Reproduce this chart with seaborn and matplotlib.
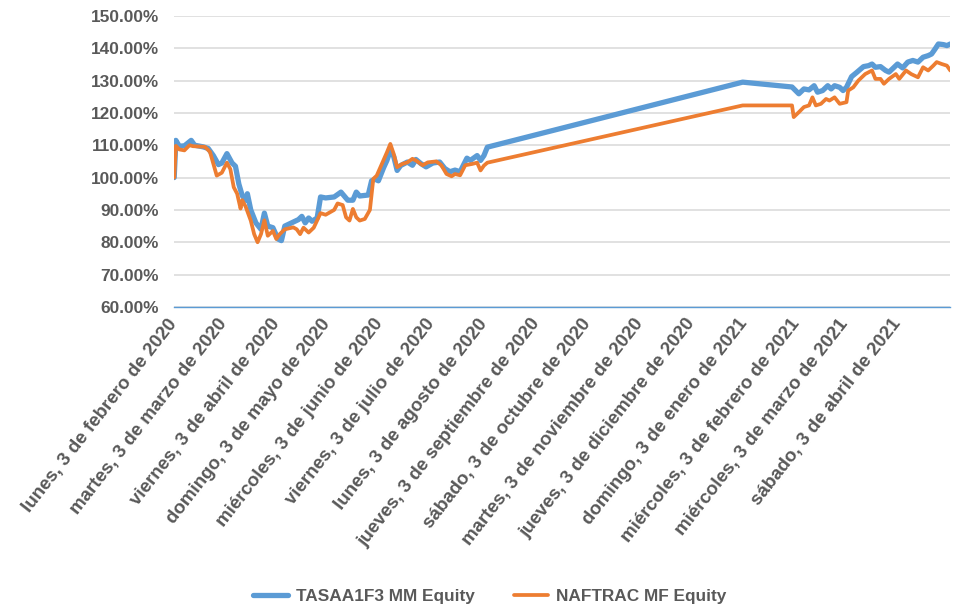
import pandas as pd
import matplotlib
matplotlib.use("Agg")
import matplotlib.pyplot as plt
import matplotlib.dates as mdates
import matplotlib.transforms as mtransforms
from matplotlib.ticker import PercentFormatter
import seaborn as sns

# Serie 1: TASAA1F3 MM Equity (valores en %)
tasa_fechas = [
    "2020-02-03", "2020-02-04", "2020-02-06", "2020-02-09", "2020-02-13", "2020-02-15",
    "2020-02-20", "2020-02-23", "2020-02-26", "2020-02-29", "2020-03-02", "2020-03-05",
    "2020-03-08", "2020-03-10", "2020-03-12", "2020-03-14", "2020-03-16", "2020-03-17",
    "2020-03-19", "2020-03-22", "2020-03-25", "2020-03-27", "2020-03-29", "2020-04-01",
    "2020-04-04", "2020-04-06", "2020-04-08", "2020-04-12", "2020-04-16", "2020-04-18",
    "2020-04-20", "2020-04-22", "2020-04-24", "2020-04-27", "2020-04-29", "2020-05-02",
    "2020-05-07", "2020-05-11", "2020-05-15", "2020-05-18", "2020-05-20", "2020-05-22",
    "2020-05-27", "2020-05-29", "2020-05-31", "2020-06-02", "2020-06-05", "2020-06-07",
    "2020-06-09", "2020-06-11", "2020-06-13", "2020-06-15", "2020-06-19", "2020-06-22",
    "2020-06-24", "2020-06-27", "2020-06-30", "2020-07-04", "2020-07-08", "2020-07-11",
    "2020-07-14", "2020-07-17", "2020-07-20", "2020-07-24", "2020-07-26", "2020-07-30",
    "2020-08-01", "2020-08-03", "2020-08-05",
    "2021-01-02", "2021-01-31", "2021-02-04", "2021-02-07", "2021-02-10", "2021-02-13",
    "2021-02-15", "2021-02-18", "2021-02-21", "2021-02-23", "2021-02-25", "2021-02-28",
    "2021-03-02", "2021-03-04", "2021-03-07", "2021-03-10", "2021-03-14", "2021-03-17",
    "2021-03-19", "2021-03-21", "2021-03-24", "2021-03-27", "2021-03-29", "2021-04-01",
    "2021-04-03", "2021-04-06", "2021-04-09", "2021-04-12", "2021-04-15", "2021-04-18",
    "2021-04-21", "2021-04-23", "2021-04-25", "2021-04-27", "2021-04-30", "2021-05-02",
    "2021-05-04",
]
tasa_valores = [
    100.0, 111.5, 109.7, 109.8, 111.5, 110.0,
    109.5, 109.0, 106.8, 104.0, 104.5, 107.4,
    104.5, 103.5, 98.0, 94.4, 93.0, 95.0,
    90.0, 86.0, 84.0, 89.0, 85.0, 84.5,
    81.0, 80.5, 85.0, 86.0, 87.0, 88.0,
    86.0, 87.5, 86.5, 87.5, 94.0, 93.7,
    94.0, 95.5, 93.0, 93.0, 95.5, 94.3,
    94.6, 99.0, 99.5, 99.0, 103.0, 105.3,
    108.4, 106.5, 102.2, 103.7, 104.8, 103.8,
    105.6, 104.3, 103.3, 104.5, 104.8, 102.8,
    101.8, 102.3, 101.8, 106.0, 105.3, 106.8,
    105.3, 106.8, 109.4,
    129.5, 128.0, 125.9, 127.4, 127.1, 128.4,
    126.4, 126.9, 128.4, 127.4, 128.4, 127.9,
    126.9, 127.9, 131.2, 132.5, 134.3, 134.6,
    135.1, 134.1, 134.3, 133.1, 132.6, 134.1,
    135.1, 133.9, 135.7, 136.2, 135.7, 137.2,
    137.7, 138.2, 139.7, 141.3, 141.1, 140.8,
    141.3,
]

# Serie 2: NAFTRAC MF Equity (valores en %)
naf_fechas = [
    "2020-02-03", "2020-02-04", "2020-02-06", "2020-02-09", "2020-02-12", "2020-02-14",
    "2020-02-21", "2020-02-24", "2020-02-26", "2020-02-28", "2020-03-02", "2020-03-05",
    "2020-03-07", "2020-03-09", "2020-03-11", "2020-03-13", "2020-03-14", "2020-03-16",
    "2020-03-19", "2020-03-21", "2020-03-23", "2020-03-25", "2020-03-27", "2020-03-29",
    "2020-04-01", "2020-04-03", "2020-04-05", "2020-04-08", "2020-04-13", "2020-04-15",
    "2020-04-17", "2020-04-19", "2020-04-22", "2020-04-25", "2020-04-29", "2020-05-02",
    "2020-05-07", "2020-05-09", "2020-05-12", "2020-05-14", "2020-05-16", "2020-05-18",
    "2020-05-20", "2020-05-22", "2020-05-25", "2020-05-28", "2020-05-30", "2020-06-01",
    "2020-06-04", "2020-06-07", "2020-06-09", "2020-06-11", "2020-06-13", "2020-06-16",
    "2020-06-19", "2020-06-22", "2020-06-24", "2020-06-28", "2020-07-01", "2020-07-06",
    "2020-07-09", "2020-07-12", "2020-07-15", "2020-07-17", "2020-07-20", "2020-07-23",
    "2020-07-27", "2020-07-30", "2020-08-01", "2020-08-03", "2020-08-05",
    "2021-01-02", "2021-01-31", "2021-02-01", "2021-02-04", "2021-02-07", "2021-02-10",
    "2021-02-12", "2021-02-14", "2021-02-17", "2021-02-20", "2021-02-22", "2021-02-25",
    "2021-02-28", "2021-03-04", "2021-03-05", "2021-03-08", "2021-03-11", "2021-03-15",
    "2021-03-19", "2021-03-21", "2021-03-24", "2021-03-26", "2021-03-29", "2021-04-02",
    "2021-04-04", "2021-04-08", "2021-04-11", "2021-04-15", "2021-04-18", "2021-04-21",
    "2021-04-24", "2021-04-26", "2021-04-29", "2021-05-02", "2021-05-04",
]
naf_valores = [
    100.0, 109.8, 108.7, 108.4, 110.0, 109.7,
    109.5, 108.0, 104.3, 100.6, 101.5, 104.6,
    102.6, 97.0, 95.0, 90.4, 93.0, 91.0,
    86.7, 82.5, 80.0, 82.5, 86.8, 82.0,
    83.5, 81.0, 82.5, 84.0, 84.6, 84.0,
    82.5, 84.5, 83.0, 84.5, 89.0, 88.5,
    90.0, 92.0, 91.5, 87.7, 86.7, 90.3,
    87.7, 86.7, 87.2, 90.0, 99.6, 100.6,
    104.2, 107.8, 110.4, 107.3, 103.2, 104.2,
    104.7, 105.8, 105.3, 103.8, 104.7, 105.0,
    103.8, 101.1, 100.4, 101.1, 100.7, 103.8,
    104.2, 104.6, 102.2, 103.7, 104.6,
    122.3, 122.3, 118.7, 120.2, 121.8, 122.3,
    124.8, 122.3, 122.8, 124.3, 123.8, 124.8,
    122.8, 123.3, 126.9, 127.9, 130.0, 132.0,
    133.1, 130.5, 130.5, 129.0, 130.5, 132.0,
    130.5, 133.1, 132.0, 131.0, 134.1, 133.1,
    134.6, 135.7, 135.1, 134.6, 133.1,
]

# Marcas del eje X (dia 3 de cada mes)
tick_fechas = [
    "2020-02-03", "2020-03-03", "2020-04-03", "2020-05-03", "2020-06-03",
    "2020-07-03", "2020-08-03", "2020-09-03", "2020-10-03", "2020-11-03",
    "2020-12-03", "2021-01-03", "2021-02-03", "2021-03-03", "2021-04-03",
]
tick_etiquetas = [
    "lunes, 3 de febrero de 2020", "martes, 3 de marzo de 2020",
    "viernes, 3 de abril de 2020", "domingo, 3 de mayo de 2020",
    "miércoles, 3 de junio de 2020", "viernes, 3 de julio de 2020",
    "lunes, 3 de agosto de 2020", "jueves, 3 de septiembre de 2020",
    "sábado, 3 de octubre de 2020", "martes, 3 de noviembre de 2020",
    "jueves, 3 de diciembre de 2020", "domingo, 3 de enero de 2021",
    "miércoles, 3 de febrero de 2021", "miércoles, 3 de marzo de 2021",
    "sábado, 3 de abril de 2021",
]

sns.set_theme(style="white")
plt.rcParams["font.family"] = ["Liberation Sans", "DejaVu Sans"]
gris = "#595959"

tasa = pd.DataFrame({"fecha": pd.to_datetime(tasa_fechas), "valor": tasa_valores})
naf = pd.DataFrame({"fecha": pd.to_datetime(naf_fechas), "valor": naf_valores})

fig = plt.figure(figsize=(9.57, 6.09), dpi=100)
ax = fig.add_axes([0.182, 0.496, 0.811, 0.478])

sns.lineplot(data=tasa, x="fecha", y="valor", ax=ax, color="#5B9BD5", linewidth=3.8,
             label="TASAA1F3 MM Equity", solid_joinstyle="round", solid_capstyle="round")
sns.lineplot(data=naf, x="fecha", y="valor", ax=ax, color="#ED7D31", linewidth=2.7,
             label="NAFTRAC MF Equity", solid_joinstyle="round", solid_capstyle="round")

ax.set_ylim(60, 150)
ax.set_yticks(range(60, 151, 10))
ax.yaxis.set_major_formatter(PercentFormatter(xmax=100, decimals=2))
ax.set_xlim(pd.Timestamp("2020-02-03"), pd.Timestamp("2021-05-04"))
ax.set_xticks(mdates.date2num(pd.to_datetime(tick_fechas)))
ax.set_xticklabels(tick_etiquetas, rotation=52, ha="right", va="center",
                   rotation_mode="anchor", fontsize=13.5, fontweight="bold", color=gris)
# las etiquetas de Excel terminan un poco a la derecha de la marca
desplaza = mtransforms.ScaledTranslation(4 / 100, 0, fig.dpi_scale_trans)
for lbl in ax.get_xticklabels():
    lbl.set_transform(lbl.get_transform() + desplaza)
for lbl in ax.get_yticklabels():
    lbl.set_fontsize(12.4)
    lbl.set_fontweight("bold")
    lbl.set_color(gris)

ax.grid(axis="y", color="#D9D9D9", linewidth=1.1)
ax.grid(axis="x", visible=False)
ax.set_axisbelow(True)
ax.tick_params(axis="both", length=0)
ax.tick_params(axis="y", pad=11)
ax.tick_params(axis="x", pad=10)
for side in ["top", "right", "left"]:
    ax.spines[side].set_visible(False)
ax.spines["bottom"].set_color("#5B9BD5")
ax.spines["bottom"].set_linewidth(1.0)
ax.set_xlabel("")
ax.set_ylabel("")

ax.legend_.remove()
handles, labels = ax.get_legend_handles_labels()
leg = fig.legend(handles, labels, loc="center", bbox_to_anchor=(0.512, 0.02), ncol=2,
                 frameon=False, handlelength=2.0, handletextpad=0.45, columnspacing=2.3,
                 prop={"weight": "bold", "size": 12.4})
for t in leg.get_texts():
    t.set_color(gris)

fig.savefig("out.png", dpi=100)
plt.close(fig)
